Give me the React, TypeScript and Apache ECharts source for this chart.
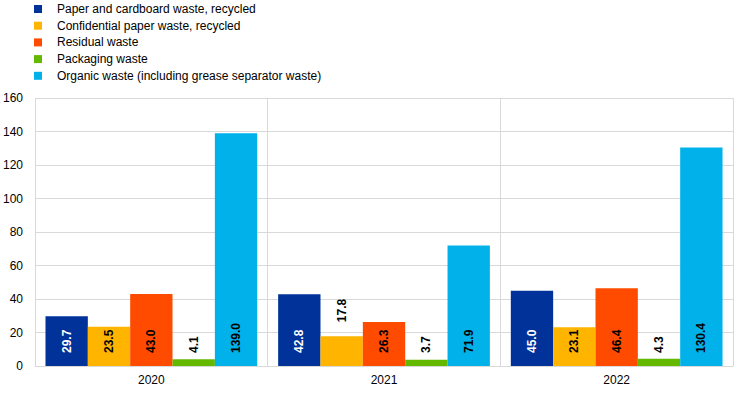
import React, { useEffect, useRef } from "react";
import * as echarts from "echarts";

const categories = ["2020", "2021", "2022"];
const seriesNames = [
  "Paper and cardboard waste, recycled",
  "Confidential paper waste, recycled",
  "Residual waste",
  "Packaging waste",
  "Organic waste (including grease separator waste)",
];
const paperValues = [29.7, 42.8, 45.0];
const confidentialValues = [23.5, 17.8, 23.1];
const residualValues = [43.0, 26.3, 46.4];
const packagingValues = [4.1, 3.7, 4.3];
const organicValues = [139.0, 71.9, 130.4];
const yTicks = { min: 0, max: 160, interval: 20 };

const colors = ["#003299", "#FFB400", "#FF4B00", "#65B800", "#00B1EA"];
const labelColors = ["#ffffff", "#000000", "#000000", "#000000", "#000000"];

export default function App() {
  const ref = useRef<HTMLDivElement>(null);
  useEffect(() => {
    if (!ref.current) return;
    const chart = echarts.init(ref.current, null, { renderer: "svg" });
    const allValues = [paperValues, confidentialValues, residualValues, packagingValues, organicValues];
    const series = allValues.map((vals, si) => ({
      type: "bar",
      name: seriesNames[si],
      barGap: "0%",
      barCategoryGap: "9%",
      itemStyle: { color: colors[si] },
      label: {
        show: true,
        position: "insideBottom",
        distance: 13,
        rotate: 90,
        align: "left",
        verticalAlign: "middle",
        color: labelColors[si],
        fontFamily: "Liberation Sans, Arial, sans-serif",
        fontSize: 12,
        fontWeight: "bold",
        formatter: (p: any) => Number(p.value).toFixed(1),
      },
      data: vals.map((v, ci) =>
        si === 1 && ci === 1
          ? { value: v, label: { position: "top", distance: 14, align: "left", verticalAlign: "middle" } }
          : v
      ),
    }));
    chart.setOption({
      animation: false,
      color: colors,
      textStyle: { fontFamily: "Liberation Sans, Arial, sans-serif" },
      legend: {
        orient: "vertical",
        left: 34,
        top: 2,
        padding: 0,
        itemWidth: 8,
        itemHeight: 8,
        itemGap: 2.7,
        icon: "rect",
        textStyle: {
          fontSize: 12,
          color: "#000000",
          lineHeight: 14,
          padding: [0, 0, 0, 10],
          fontFamily: "Liberation Sans, Arial, sans-serif",
        },
        data: seriesNames,
      },
      grid: { left: 34, right: 11, top: 98, bottom: 28, containLabel: false },
      xAxis: {
        type: "category",
        data: categories,
        boundaryGap: true,
        axisLine: { show: true, lineStyle: { color: "#d9d9d9", width: 1 } },
        axisTick: { show: false },
        splitLine: { show: true, lineStyle: { color: "#d9d9d9", width: 1 } },
        axisLabel: { color: "#000000", fontSize: 12, margin: 8 },
      },
      yAxis: {
        type: "value",
        min: yTicks.min,
        max: yTicks.max,
        interval: yTicks.interval,
        axisLine: { show: false },
        axisTick: { show: false },
        splitLine: { show: true, lineStyle: { color: "#d9d9d9", width: 1 } },
        axisLabel: { color: "#000000", fontSize: 12, margin: 12 },
      },
      series,
    });
    return () => chart.dispose();
  }, []);
  return <div ref={ref} style={{ width: 744, height: 394, position: "absolute", left: 0, top: 0 }} />;
}
